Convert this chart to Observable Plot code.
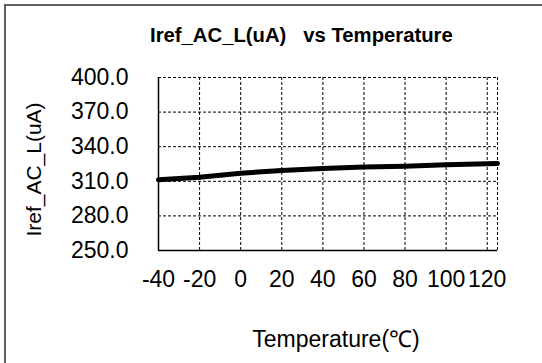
<!DOCTYPE html>
<html>
<head>
<meta charset="utf-8">
<script src="https://cdn.jsdelivr.net/npm/d3@7"></script>
<script src="https://cdn.jsdelivr.net/npm/@observablehq/plot@0.6"></script>
<style>
  html, body { margin: 0; padding: 0; background: #fff; }
  #wrap { position: relative; width: 542px; height: 363px; overflow: hidden; font-family: "Liberation Sans", Arial, sans-serif; }
  #border { position: absolute; left: 4px; top: 4px; right: -10px; bottom: -10px; border-left: 2px solid #606060; border-top: 2px solid #606060; }
  #title { position: absolute; left: 150px; top: 25px; font-size: 20.3px; line-height: 20px; font-weight: bold; white-space: pre; color: #000; }
  #chart { position: absolute; left: 0; top: 60px; }
</style>
</head>
<body>
<div id="wrap">
  <div id="border"></div>
  <div id="title">Iref_AC_L(uA)   vs Temperature</div>
  <div id="chart"></div>
</div>
<script>
const temperatures = [-40, -20, 0, 20, 40, 60, 80, 100, 125];
const irefValues = [311.3, 313.6, 317.0, 319.4, 321.1, 322.3, 323.1, 324.3, 325.4];
const xTicks = [-40, -20, 0, 20, 40, 60, 80, 100, 120];
const xGrid = [-20, 0, 20, 40, 60, 80, 100, 120, 125];
const yTicks = [250, 280, 310, 340, 370, 400];
const yGrid = [280, 310, 340, 370, 400];
const xTitle = "Temperature(℃)";
const yTitle = "Iref_AC_L(uA)";

const data = temperatures.map((t, i) => ({t, v: irefValues[i]}));

const chart = Plot.plot({
  width: 542,
  height: 303,
  marginLeft: 158,
  marginRight: 45,
  marginTop: 17,
  marginBottom: 113,
  style: {fontFamily: "'Liberation Sans', Arial, sans-serif", fontSize: "23px", color: "#000", background: "transparent", overflow: "visible"},
  x: {domain: [-40, 125]},
  y: {domain: [250, 400]},
  marks: [
    Plot.gridX(xGrid, {stroke: "#000", strokeOpacity: 1, strokeWidth: 1, strokeDasharray: "3,2"}),
    Plot.gridY(yGrid, {stroke: "#000", strokeOpacity: 1, strokeWidth: 1, strokeDasharray: "3,2"}),
    Plot.ruleX([-40], {stroke: "#000", strokeWidth: 1.5}),
    Plot.ruleY([250], {stroke: "#000", strokeWidth: 1.5}),
    Plot.axisX(xTicks, {tickSize: 0, tickPadding: 20, label: null, fontSize: 23, tickFormat: d => String(d)}),
    Plot.axisY(yTicks, {tickSize: 0, tickPadding: 30, label: null, fontSize: 23, tickFormat: d => d.toFixed(1)}),
    Plot.line(data, {x: "t", y: "v", stroke: "#000", strokeWidth: 5}),
    Plot.text([yTitle], {frameAnchor: "left", dx: -124, dy: 5.5, rotate: -90, fontSize: 21, lineAnchor: "middle", textAnchor: "middle"}),
    Plot.text([xTitle], {frameAnchor: "bottom", dx: 8, dy: 89, fontSize: 23, lineAnchor: "middle", textAnchor: "middle"})
  ]
});
document.getElementById("chart").appendChild(chart);
</script>
</body>
</html>
